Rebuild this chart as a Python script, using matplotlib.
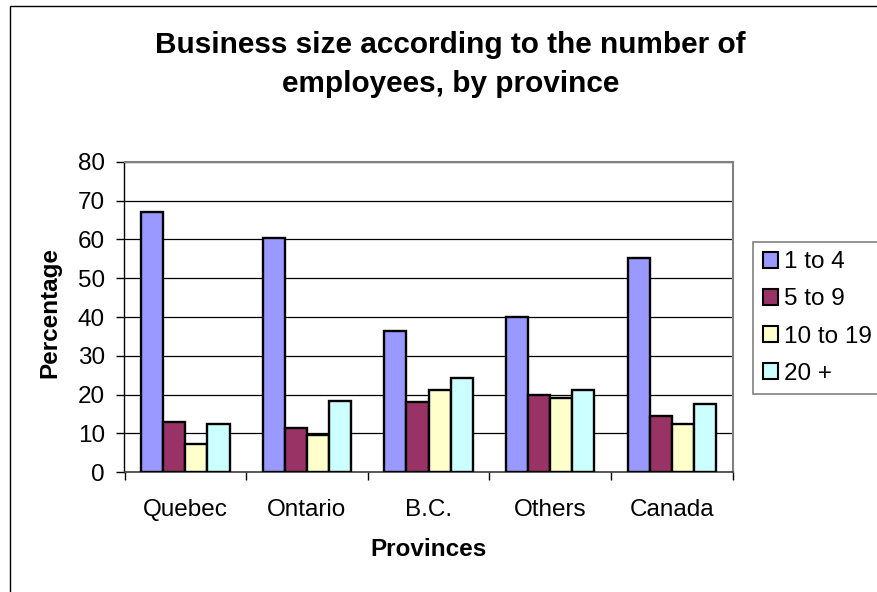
import matplotlib
matplotlib.use("Agg")
import matplotlib.pyplot as plt
import numpy as np
from matplotlib.patches import Rectangle

plt.rcParams['font.family'] = ['Liberation Sans', 'DejaVu Sans']

provinces = ["Quebec", "Ontario", "B.C.", "Others", "Canada"]
size_classes = ["1 to 4", "5 to 9", "10 to 19", "20 +"]
emp_1_4 = [67.0, 60.4, 36.3, 40.1, 55.2]
emp_5_9 = [13.0, 11.3, 18.2, 19.8, 14.5]
emp_10_19 = [7.3, 9.7, 21.1, 19.1, 12.5]
emp_20_plus = [12.4, 18.4, 24.3, 21.1, 17.7]
y_ticks = [0, 10, 20, 30, 40, 50, 60, 70, 80]

series = [emp_1_4, emp_5_9, emp_10_19, emp_20_plus]
colors = ["#9999FF", "#993366", "#FFFFCC", "#CCFFFF"]

fig = plt.figure(figsize=(8.78, 5.92), dpi=100)
fig.patch.set_facecolor("white")

# outer chart frame
fig.patches.append(Rectangle((10 / 878, -0.1), 1.2, 1 - 6 / 592 + 0.1,
                             transform=fig.transFigure, fill=False,
                             edgecolor="black", linewidth=1.0))

ax = fig.add_axes([124.5 / 878, 1 - 472.3 / 592,
                   (732.7 - 124.5) / 878, (472.3 - 161.7) / 592])

x = np.arange(len(provinces))
w = 1 / 5.5
for i, (vals, col, lab) in enumerate(zip(series, colors, size_classes)):
    ax.bar(x + (i - 1.5) * w, vals, width=w, color=col, edgecolor="black",
           linewidth=1.7, label=lab, zorder=3)

ax.set_xlim(-0.5, len(provinces) - 0.5)
ax.set_ylim(0, 80)
ax.set_yticks(y_ticks)
ax.set_yticklabels([str(v) for v in y_ticks])
ax.yaxis.grid(True, color="black", linewidth=0.9, zorder=0)
ax.set_axisbelow(True)

ax.set_xticks(x)
ax.set_xticklabels(provinces)
ax.set_xticks(np.arange(-0.5, len(provinces), 1.0), minor=True)
ax.tick_params(axis="x", which="major", length=0, pad=19, labelsize=17.5)
ax.tick_params(axis="x", which="minor", length=6, width=1, direction="out",
               color="black")
ax.tick_params(axis="y", length=6, width=1, direction="out", pad=8,
               labelsize=17.5)

for side in ("top", "right"):
    ax.spines[side].set_color("#808080")
    ax.spines[side].set_linewidth(1.5)
ax.spines["left"].set_color("black")
ax.spines["bottom"].set_color("#404040")
ax.spines["left"].set_linewidth(1.0)
ax.spines["bottom"].set_linewidth(1.2)

fig.text(450 / 878, 1 - 53.3 / 592, "Business size according to the number of",
         ha="center", va="baseline", fontsize=21.4, fontweight="bold")
fig.text(451 / 878, 1 - 91.7 / 592, "employees, by province",
         ha="center", va="baseline", fontsize=21.4, fontweight="bold")

fig.text(50 / 878, 1 - 313 / 592, "Percentage", rotation=90, ha="center",
         va="center", fontsize=17.5, fontweight="bold")
fig.text(428.7 / 878, 1 - 550 / 592, "Provinces", ha="center", va="center",
         fontsize=17.5, fontweight="bold")

leg = ax.legend(loc="upper left", bbox_to_anchor=(753.3 / 878, 1 - 241.7 / 592),
                bbox_transform=fig.transFigure, fontsize=17.5, frameon=True,
                fancybox=False, handlelength=0.6, handleheight=0.6,
                handletextpad=0.25, labelspacing=0.62, borderpad=0.4,
                borderaxespad=0, framealpha=1)
leg.get_frame().set_edgecolor("#808080")
leg.get_frame().set_linewidth(1.2)
for h in leg.legend_handles:
    h.set_linewidth(1.5)

fig.savefig("out.png", dpi=100, facecolor="white")
